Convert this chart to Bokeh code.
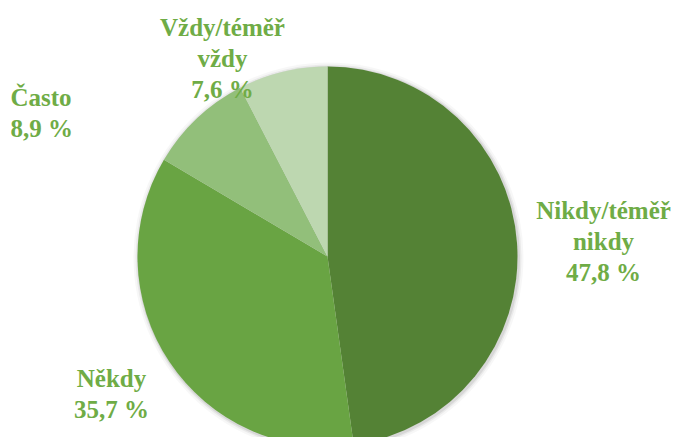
from bokeh.plotting import figure
from bokeh.models import Range1d, ColumnDataSource
from bokeh.core.properties import value
from bokeh.embed import file_html
from bokeh.resources import INLINE

# ---- data ----
categories = ["Nikdy/téměř\nnikdy", "Někdy", "Často", "Vždy/téměř\nvždy"]
shares = [47.8, 35.7, 8.9, 7.6]
colors = ["#548235", "#69a443", "#92bf7a", "#bdd7b0"]

# ---- layout (image pixel space, y measured upward from image bottom) ----
W, H = 673, 437
PAGE_H = 445
cx, cy, r = 327, PAGE_H - 256, 190
label_anchor = [(603, 210, "center"), (111, 378, "center"), (10, 97, "left"), (222, 27, "center")]
line_gap = 31
label_color = "#6fac46"

p = figure(width=W, height=H, x_range=Range1d(0, W), y_range=Range1d(PAGE_H - H, PAGE_H),
           output_backend="svg", toolbar_location=None, min_border=0)
p.axis.visible = False
p.grid.visible = False
p.outline_line_color = None
p.background_fill_color = "white"

# soft shadow
for k, a in [(5, 0.03), (3, 0.05), (1.5, 0.08)]:
    p.circle(x=[cx + 1], y=[cy - 1], radius=r + k, fill_color="#000000", fill_alpha=a, line_color=None)

starts, ends = [], []
cum = 0.0
total = sum(shares)
for s in shares:
    starts.append(90 - cum / total * 360)
    cum += s
    ends.append(90 - cum / total * 360)

src = ColumnDataSource(dict(start=starts, end=ends, color=colors))
p.wedge(x=cx, y=cy, radius=r, start_angle="start", end_angle="end", start_angle_units="deg",
        end_angle_units="deg", direction="clock", fill_color="color", line_color=None, source=src)

for cat, val, (ax, ay, align) in zip(categories, shares, label_anchor):
    lines = cat.split("\n") + [f"{val:.1f}".replace(".", ",") + " %"]
    xs = [ax] * len(lines)
    ys = [PAGE_H - (ay + i * line_gap) for i in range(len(lines))]
    p.text(x=xs, y=ys, text=lines, text_font=value("Liberation Serif"),
           text_font_style="bold", text_font_size="25px", text_color=label_color,
           text_align=align, text_baseline="middle")

open("out.html", "w").write(file_html(p, INLINE))
